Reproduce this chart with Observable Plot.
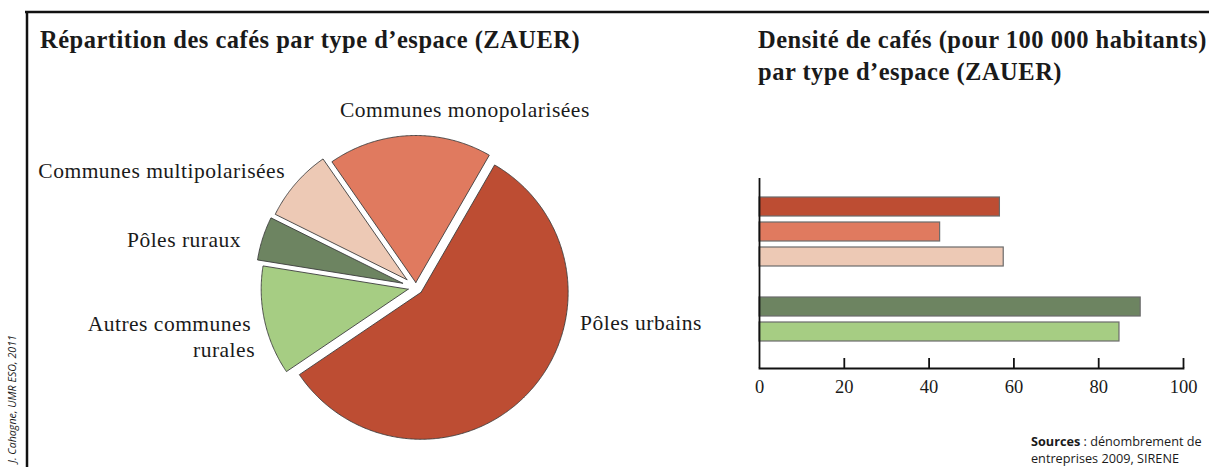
<!DOCTYPE html>
<html><head><meta charset="utf-8">
<script src="https://cdn.jsdelivr.net/npm/d3@7"></script>
<script src="https://cdn.jsdelivr.net/npm/@observablehq/plot@0.6"></script>
<style>
body{margin:0;background:#fff;}
#root{position:relative;width:1209px;height:467px;overflow:hidden;background:#fff;}
#root > svg, #root > div{position:absolute;}
</style></head><body><div id="root"></div>
<script>
// ---- data ----
const categories = ["Pôles urbains","Communes monopolarisées","Communes multipolarisées","Pôles ruraux","Autres communes rurales"];
const pieShares = [57.2, 18, 8, 4.8, 12];          // % of cafés by type of space
const densities = [56.7, 42.6, 57.6, 89.9, 84.9];  // cafés per 100 000 inhabitants
const colors = ["#bd4d33","#e07a5f","#edc9b5","#6d8461","#a6cd83"];
const pieOrder = ["Pôles urbains","Autres communes rurales","Pôles ruraux","Communes multipolarisées","Communes monopolarisées"];
const barOrder = ["Pôles urbains","Communes monopolarisées","Communes multipolarisées"," ","Pôles ruraux","Autres communes rurales"];
const xTicks = [0,20,40,60,80,100];

// ---- styling / layout (not data) ----
const R = 147, CX = 415.5, CY = 287, PW = 700, PH = 467;
const explodePx = {"Pôles urbains":7,"Communes monopolarisées":5,"Communes multipolarisées":12,"Pôles ruraux":14,"Autres communes rurales":8};
const colorOf = Object.fromEntries(categories.map((c,i)=>[c,colors[i]]));

const root = document.getElementById("root");

// ---- pie ----
const pieData = pieOrder.map(c => ({cat:c, share: pieShares[categories.indexOf(c)]}));
const arcs = d3.pie().sort(null).value(d=>d.share).startAngle(30*Math.PI/180).endAngle(390*Math.PI/180)(pieData);
const sliceMarks = arcs.map(a => {
  const mid = (a.startAngle + a.endAngle)/2;
  const e = explodePx[a.data.cat]/R;
  const ox = e*Math.sin(mid), oy = e*Math.cos(mid);
  const pts = [{x:ox,y:oy}];
  const n = Math.max(8, Math.ceil((a.endAngle-a.startAngle)/(Math.PI/360)));
  for (let k=0;k<=n;k++){
    const t = a.startAngle + (a.endAngle-a.startAngle)*k/n;
    pts.push({x: ox+Math.sin(t), y: oy+Math.cos(t)});
  }
  pts.push({x:ox,y:oy});
  return Plot.line(pts,{x:"x",y:"y",fill:colorOf[a.data.cat],stroke:"#3d3d3d",strokeWidth:0.9,curve:"linear"});
});
const pie = Plot.plot({
  width: PW, height: PH, margin: 0,
  x: {domain:[-CX/R,(PW-CX)/R], range:[0,PW], axis:null},
  y: {domain:[-(PH-CY)/R, CY/R], range:[PH,0], axis:null},
  marks: sliceMarks
});
pie.style.left = "0px"; pie.style.top = "0px";
root.appendChild(pie);

// ---- bars ----
const barData = categories.map((c,i)=>({cat:c, value:densities[i], color:colors[i]}));
const bars = Plot.plot({
  width: 509, height: 420,
  marginLeft: 59, marginRight: 26, marginTop: 178, marginBottom: 52,
  style: {background:"transparent", overflow:"visible"},
  x: {domain:[0,100], axis:null},
  y: {type:"band", domain: barOrder, paddingInner:0.24, paddingOuter:0.92, align:0.4065, axis:null},
  color: {type:"identity"},
  marks: [
    Plot.barX(barData, {x:"value", y:"cat", fill:"color", stroke:"#6b6b6b", strokeWidth:1.2}),
    Plot.ruleX([0], {stroke:"#111", strokeWidth:1.8}),
    Plot.frame({anchor:"bottom", stroke:"#111", strokeWidth:1.8}),
    Plot.ruleX(xTicks.slice(1), {stroke:"#111", strokeWidth:1.8, insetTop:180}),
    Plot.axisX(xTicks, {tickSize:0, tickPadding:11, fontSize:18.5, fontFamily:"Liberation Serif", label:null, tickFormat:d=>String(d), color:"#1a1a1a"})
  ]
});
bars.style.left = "700px"; bars.style.top = "0px";
root.appendChild(bars);

// ---- texts & frame ----
const svg = d3.select(root).append("svg").attr("width",1209).attr("height",467)
  .style("left","0px").style("top","0px").style("pointer-events","none");
svg.append("line").attr("x1",25).attr("x2",1209).attr("y1",12).attr("y2",12).attr("stroke","#111").attr("stroke-width",2.5);
svg.append("line").attr("x1",27).attr("x2",27).attr("y1",11).attr("y2",467).attr("stroke","#111").attr("stroke-width",2.5);
const serif = "'Liberation Serif', serif";
const T = (x,y,txt,opt={}) => svg.append("text").attr("x",x).attr("y",y).text(txt)
  .attr("font-family",opt.family||serif).attr("font-size",opt.size||20).attr("font-weight",opt.weight||"normal")
  .attr("letter-spacing",opt.ls||0)
  .attr("font-style",opt.style||"normal").attr("text-anchor",opt.anchor||"start").attr("fill",opt.fill||"#1a1a1a");
T(40,48,"Répartition des cafés par type d’espace (ZAUER)",{size:24.5,weight:"bold",ls:0.5});
T(758,48,"Densité de cafés (pour 100 000 habitants)",{size:24.5,weight:"bold",ls:0.5});
T(758,80,"par type d’espace (ZAUER)",{size:24.5,weight:"bold",ls:0.5});
T(340,117,"Communes monopolarisées",{size:21.5,ls:0.5});
T(285,178,"Communes multipolarisées",{size:21.5,anchor:"end",ls:0.5});
T(241,247,"Pôles ruraux",{size:21.5,anchor:"end",ls:0.5});
T(251,331,"Autres communes",{size:21.5,anchor:"end",ls:0.5});
T(255,357,"rurales",{size:21.5,anchor:"end",ls:0.5});
T(580,330,"Pôles urbains",{size:21.5,ls:0.5});
const src1 = svg.append("text").attr("x",1031).attr("y",446).attr("font-family","'Open Sans', sans-serif").attr("font-size",12.7).attr("fill","#1a1a1a");
src1.append("tspan").attr("font-weight","bold").text("Sources");
src1.append("tspan").text(" : dénombrement de");
T(1031,463,"entreprises 2009, SIRENE",{family:"'Open Sans', sans-serif",size:12.7});
svg.append("text").attr("transform","translate(16,335) rotate(-90)").attr("text-anchor","end")
  .attr("font-family","'Open Sans', sans-serif").attr("font-size",10.7).attr("font-style","italic").attr("fill","#1a1a1a")
  .text("J. Cahagne, UMR ESO, 2011");
</script>
</body></html>
